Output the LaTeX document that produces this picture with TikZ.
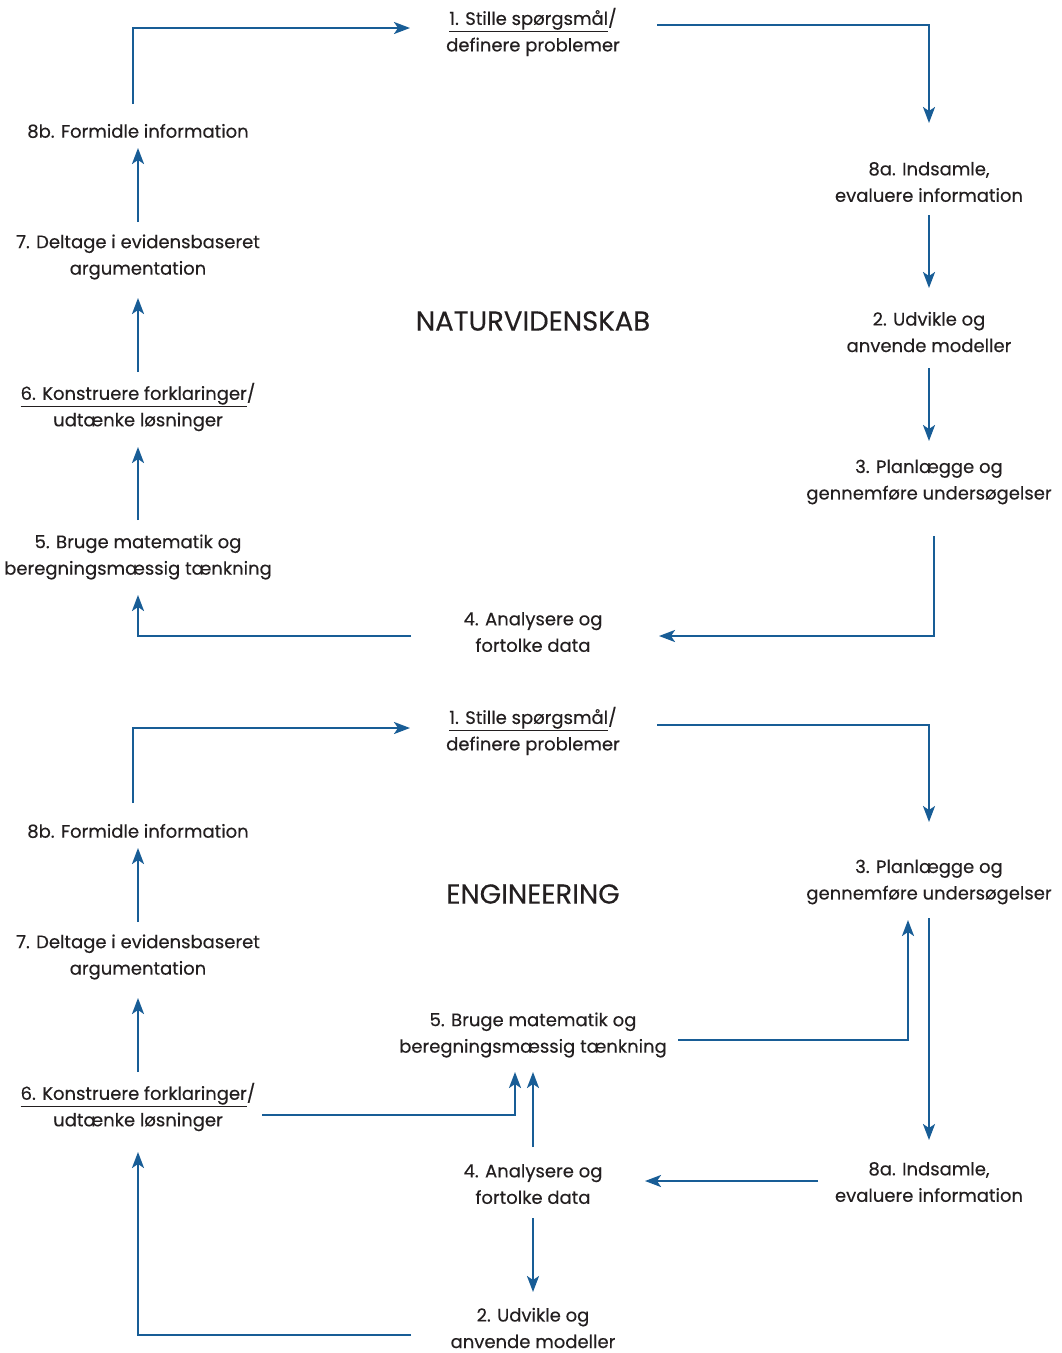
\documentclass[tikz,border=0pt]{standalone}
\usepackage{fontspec}
\setmainfont{Poppins}[FakeBold=0.3]
\usetikzlibrary{arrows.meta,calc}
\definecolor{lineblue}{RGB}{24,93,150}
\definecolor{txt}{RGB}{35,31,32}
\begin{document}
\begin{tikzpicture}[x=1pt,y=-1pt,
 lbl/.style={align=center,font=\fontsize{18}{26.5}\selectfont,text=txt,inner sep=0pt,outer sep=0pt},
 ttl/.style={font=\fontsize{27.5}{30}\selectfont,text=txt,inner sep=0pt},
 arr/.style={draw=lineblue,line width=2.2pt,-{Stealth[length=16pt,width=12pt,inset=4pt]}}]
\useasboundingbox[fill=white] (0,0) rectangle (1062,1353);
% ---------- top diagram ----------
\node[lbl] (a1) at (533,32) {\underline{1. Stille spørgsmål}/\\definere problemer};
\node[lbl] (a8a) at (929,182) {8a. Indsamle,\\evaluere information};
\node[lbl] (a2) at (929,332) {2. Udvikle og\\anvende modeller};
\node[lbl] (a3) at (929,482) {3. Planlægge og\\gennemføre undersøgelser};
\node[lbl] (a4) at (533,632) {4. Analysere og\\fortolke data};
\node[lbl] (a5) at (138,557) {5. Bruge matematik og\\beregningsmæssig tænkning};
\node[lbl] (a6) at (138,407) {\underline{6. Konstruere forklaringer}/\\udtænke løsninger};
\node[lbl] (a7) at (138,257) {7. Deltage i evidensbaseret\\argumentation};
\node[lbl] (a8b) at (138,131) {8b. Formidle information};
\node[ttl] (atitle) at (533,321) {NATURVIDENSKAB};
\draw[arr] ($(a8b.center)+(-5,-27)$) |- ($(a1.center)+(-123,-4)$);
\draw[arr] ($(a1.center)+(124,-7)$) -| ($(a8a.center)+(0,-59)$);
\draw[arr] ($(a8a.center)+(0,33)$) -- ($(a2.center)+(0,-44)$);
\draw[arr] ($(a2.center)+(0,36)$) -- ($(a3.center)+(0,-41)$);
\draw[arr] ($(a3.center)+(5,54)$) |- ($(a4.center)+(126,4)$);
\draw[arr] ($(a4.center)+(-122,4)$) -| ($(a5.center)+(0,38)$);
\draw[arr] ($(a5.center)+(0,-37)$) -- ($(a6.center)+(0,40)$);
\draw[arr] ($(a6.center)+(0,-35)$) -- ($(a7.center)+(0,41)$);
\draw[arr] ($(a7.center)+(0,-35)$) -- ($(a8b.center)+(0,17)$);
% ---------- bottom diagram ----------
\node[lbl] (b1) at (533,731) {\underline{1. Stille spørgsmål}/\\definere problemer};
\node[lbl] (b8b) at (138,831) {8b. Formidle information};
\node[lbl] (b7) at (138,957) {7. Deltage i evidensbaseret\\argumentation};
\node[lbl] (b6) at (138,1107) {\underline{6. Konstruere forklaringer}/\\udtænke løsninger};
\node[lbl] (b5) at (533,1035) {5. Bruge matematik og\\beregningsmæssig tænkning};
\node[lbl] (b3) at (929,882) {3. Planlægge og\\gennemføre undersøgelser};
\node[lbl] (b8a) at (929,1182) {8a. Indsamle,\\evaluere information};
\node[lbl] (b4) at (533,1184) {4. Analysere og\\fortolke data};
\node[lbl] (b2) at (533,1328) {2. Udvikle og\\anvende modeller};
\node[ttl] (btitle) at (533,894) {ENGINEERING};
\draw[arr] ($(b8b.center)+(-5,-28)$) |- ($(b1.center)+(-123,-3)$);
\draw[arr] ($(b1.center)+(124,-6)$) -| ($(b3.center)+(0,-60)$);
\draw[arr] ($(b3.center)+(0,36)$) -- ($(b8a.center)+(0,-42)$);
\draw[arr] ($(b5.center)+(145,5)$) -| ($(b3.center)+(-21,38)$);
\draw[arr] ($(b8a.center)+(-111,-1)$) -- ($(b4.center)+(112,-3)$);
\draw[arr] ($(b4.center)+(0,-37)$) -- ($(b5.center)+(0,37)$);
\draw[arr] ($(b6.center)+(124,8)$) -| ($(b5.center)+(-18,37)$);
\draw[arr] ($(b4.center)+(0,34)$) -- ($(b2.center)+(0,-36)$);
\draw[arr] ($(b2.center)+(-122,7)$) -| ($(b6.center)+(0,45)$);
\draw[arr] ($(b6.center)+(0,-35)$) -- ($(b7.center)+(0,41)$);
\draw[arr] ($(b7.center)+(0,-35)$) -- ($(b8b.center)+(0,17)$);
\end{tikzpicture}
\end{document}
